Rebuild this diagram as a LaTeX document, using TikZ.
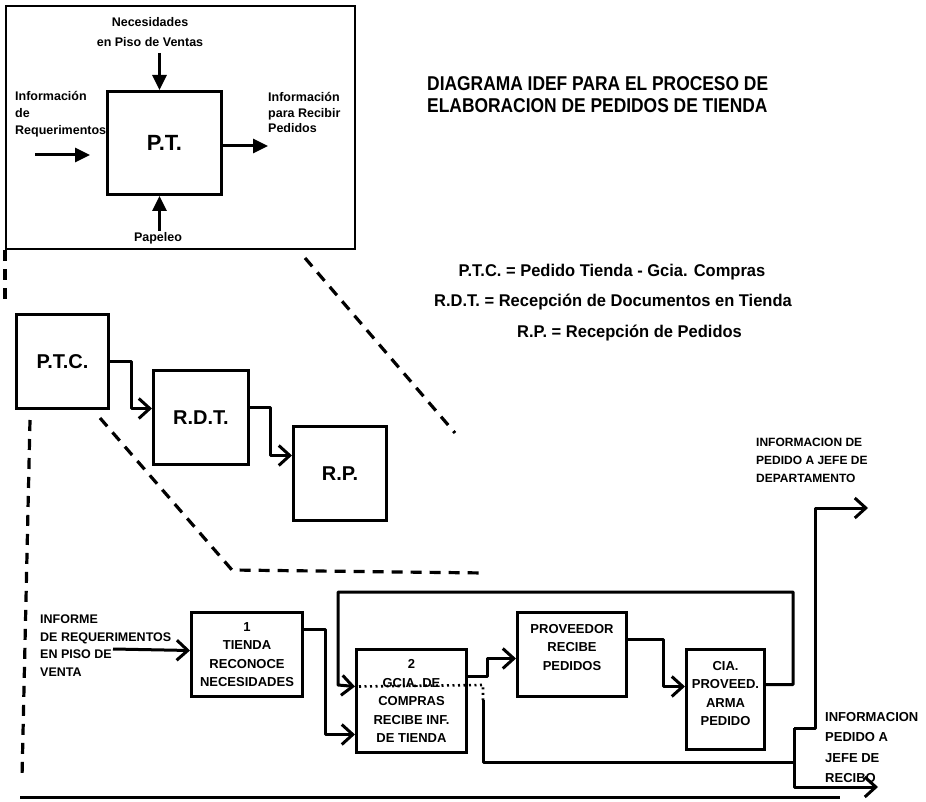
\documentclass[tikz,border=0pt]{standalone}
\usepackage{fontspec}
\setmainfont{Liberation Sans}
\newfontfamily\ttlfont[FakeStretch=0.87]{Liberation Sans}
\newfontfamily\dfnfont[FakeStretch=0.97]{Liberation Sans}
\usetikzlibrary{arrows.meta}
\begin{document}
\begin{tikzpicture}[x=1pt,y=-1pt,
  box/.style={draw, line width=3pt, anchor=north west, inner sep=0pt, align=center},
  bigtxt/.style={font=\fontsize{20}{24}\selectfont\bfseries},
  smalltxt/.style={font=\fontsize{13}{18.5}\selectfont\bfseries},
  tinytxt/.style={font=\fontsize{12.5}{17}\selectfont\bfseries},
  tri/.style={line width=3pt, -{Triangle[length=15pt,width=14pt]}},
  conn/.style={line width=3pt, line join=round, -{Straight Barb[length=11pt,width=20pt]}},
  wire/.style={line width=3pt, line join=round},
  dashline/.style={line width=3.2pt, dash pattern=on 11pt off 8pt, line join=round},
  dotline/.style={line width=2.6pt, dash pattern=on 2pt off 3.5pt},
]
\fill[white] (0,0) rectangle (926,802);
\useasboundingbox (0,0) rectangle (926,802);

% ---------- top frame with P.T. ----------
\node[draw, line width=2.2pt, anchor=north west, minimum width=349pt, minimum height=243pt, inner sep=0pt] (frame) at (5,5) {};
\node[box, minimum width=114pt, minimum height=103pt, font=\fontsize{22}{26}\selectfont\bfseries] (pt) at (106,90) {P.T.};

\node[tinytxt, align=center, inner sep=1pt, font=\fontsize{12.5}{20}\selectfont\bfseries] (nec) at (150,32) {Necesidades\\en Piso de Ventas};
\node[tinytxt, align=left, anchor=west, inner sep=0pt] (req) at (15,114.5) {Información\\de\\Requerimentos};
\node[tinytxt, align=left, anchor=west, inner sep=0pt, font=\fontsize{12.5}{15.5}\selectfont\bfseries] (out) at (268,112.5) {Información\\para Recibir\\Pedidos};
\node[tinytxt, inner sep=1pt] (pap) at (158,238) {Papeleo};

\coordinate (ptn) at ([xshift=-5pt]pt.north);
\coordinate (pts) at ([xshift=-5pt]pt.south);
\draw[tri] (ptn |- nec.south) ++(0,5) -- (ptn);
\coordinate (la) at (35,155);
\coordinate (lb) at (90,155);
\draw[tri] (la) -- (lb);
\draw[tri] ([yshift=-3pt]pt.east) -- ([yshift=-3pt]pt.east -| out.west);
\draw[tri] (pts |- pap.north) -- (pts);

% ---------- title and definitions ----------
\node[font=\fontsize{20}{22}\selectfont\ttlfont\bfseries, align=left, anchor=west, inner sep=0pt] (title) at (427,95)
  {DIAGRAMA IDEF PARA EL PROCESO DE\\ELABORACION DE PEDIDOS DE TIENDA};
\node[font=\fontsize{17}{20}\selectfont\dfnfont\bfseries, inner sep=0pt] (def1) at (612,272) {P.T.C. = Pedido Tienda - Gcia. Compras};
\node[font=\fontsize{17}{20}\selectfont\dfnfont\bfseries, inner sep=0pt] (def2) at (613,302) {R.D.T. = Recepción de Documentos en Tienda};
\node[font=\fontsize{17}{20}\selectfont\dfnfont\bfseries, inner sep=0pt, anchor=west] (def3) at (517,333) {R.P. = Recepción de Pedidos};

% ---------- P.T.C. / R.D.T. / R.P. ----------
\node[box, bigtxt, minimum width=92pt, minimum height=94pt] (ptc) at (15,313) {P.T.C.};
\node[box, bigtxt, minimum width=95pt, minimum height=94pt] (rdt) at (152,369) {R.D.T.};
\node[box, bigtxt, minimum width=93pt, minimum height=94pt] (rp) at (292,425) {R.P.};

\draw[conn] (ptc.east) -- ++(21,0) |- ([yshift=9pt]rdt.west);
\draw[conn] ([yshift=10pt]rdt.east) -- ++(20,0) |- ([yshift=18pt]rp.west);

% ---------- dashed zoom lines ----------
\coordinate (da1) at (305,258);
\coordinate (da2) at (455,433);
\coordinate (db1) at (30,420);
\coordinate (db2) at (22,778);
\coordinate (dc1) at (100,418);
\coordinate (dc2) at (232,570);
\coordinate (dc3) at (485,573);
\draw[dashline] (frame.south west) -- ++(0,57);
\draw[dashline] (da1) -- (da2);
\draw[dashline] (db1) -- (db2);
\draw[dashline] (dc1) -- (dc2) -- (dc3);

% bottom frame line
\coordinate (bl1) at (20,797);
\coordinate (bl2) at (840,797);
\draw[wire] (bl1) -- (bl2);

% ---------- bottom IDEF diagram ----------
\node[box, smalltxt, minimum width=111pt, minimum height=84pt] (b1) at (190,611) {1\\TIENDA\\RECONOCE\\NECESIDADES};
\node[box, smalltxt, minimum width=110pt, minimum height=103pt] (b2) at (355,648) {2\\GCIA. DE\\COMPRAS\\RECIBE INF.\\DE TIENDA};
\node[box, smalltxt, minimum width=109pt, minimum height=84pt] (b3) at (516,611) {PROVEEDOR\\RECIBE\\PEDIDOS\\[-4pt]\mbox{}};
\node[box, smalltxt, minimum width=78pt, minimum height=100pt] (b4) at (685,648) {CIA.\\PROVEED.\\ARMA\\PEDIDO\\[-6.5pt]\mbox{}};

\node[font=\fontsize{12.5}{17.7}\selectfont\bfseries, align=left, anchor=west, inner sep=0pt] (inf) at (40,645.5)
  {INFORME\\DE REQUERIMENTOS\\EN PISO DE\\VENTA};
\node[font=\fontsize{13}{20.3}\selectfont\bfseries, align=left, anchor=west, inner sep=0pt] (reclab) at (825,747.5)
  {INFORMACION\\PEDIDO A\\JEFE DE\\RECIBO};
\node[font=\fontsize{12}{18}\selectfont\bfseries, align=left, anchor=west, inner sep=0pt] (deplab) at (756,460)
  {INFORMACION DE\\PEDIDO A JEFE DE\\DEPARTAMENTO};

\coordinate (infa) at (113,649);
\draw[conn] (infa) -- ([yshift=4pt]b1.west);
\draw[conn] ([yshift=25pt]b1.east) -- ++(21,0) |- ([yshift=-33.5pt]b2.west);
\draw[conn] ([yshift=24.5pt]b2.east) -- ++(19,0) |- ([yshift=-4pt]b3.west);
\draw[conn] ([yshift=15pt]b3.east) -- ++(35,0) |- ([yshift=13pt]b4.west);

% feedback loop from box 4 back to box 2
\coordinate (fbr) at (793,592);
\coordinate (fbl) at (338,685);
\draw[conn] ([yshift=15pt]b4.east) -| (fbr) -| (fbl) -- ([yshift=14.5pt]b2.west);

% output of box 2 (dotted through the box, then down and right)
\coordinate (o1) at (483,685);
\coordinate (o2) at (483,700);
\coordinate (jn) at (794,762);
\draw[dotline] ([yshift=14.5pt,xshift=4pt]b2.west) -- (o1) -- (o2);
\draw[wire] (o2) |- (jn);

% branching outputs
\coordinate (jv) at (794,728);
\coordinate (dep) at (868,508);
\coordinate (rec) at (878,787);
\draw[wire] (jn) -- (jv);
\draw[conn] (jv) -| (815,508) -- (dep);
\draw[conn] (jv) |- (rec);
\end{tikzpicture}
\end{document}
